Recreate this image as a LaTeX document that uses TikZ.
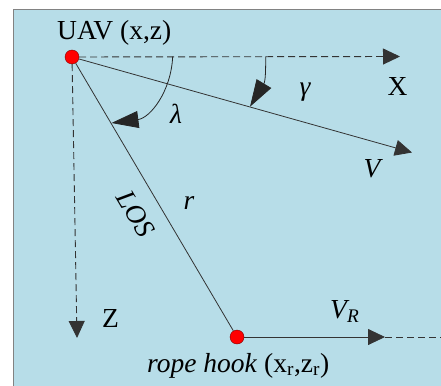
\documentclass[tikz,border=0pt]{standalone}
\usepackage{fontspec}
\setmainfont{Liberation Serif}
\usetikzlibrary{arrows.meta}
\definecolor{panelblue}{RGB}{183,221,232}
\definecolor{panelgray}{RGB}{130,130,130}

\begin{document}
\begin{tikzpicture}[x=1pt, y=-1pt, >={Triangle[length=17pt,width=16pt]},
  lbl/.style={font=\fontsize{27.5}{32}\selectfont, inner sep=0pt},
  dot/.style={circle, draw=red!50!black, fill=red, minimum size=14pt, inner sep=0pt, line width=0.4pt},
  axis/.style={dash pattern=on 7pt off 4pt, line width=0.9pt, black!80},
  ray/.style={line width=0.8pt, black!80},
  bigtip/.style={-{Triangle[length=27pt,width=17pt]}, line width=0.8pt, black!85}]
  \useasboundingbox (0,0) rectangle (441,385);
  % Panel
  \fill[panelblue] (13.5,9.5) rectangle (460,400);
  \draw[panelgray, line width=1.5pt] (13.5,400) -- (13.5,9.5) -- (460,9.5);
  % UAV and rope hook
  \node[dot] (uav) at (72,57) {};
  \node[dot] (hook) at (237,337) {};
  \coordinate (xend) at (400,56.5);
  \coordinate (zend) at (77,338);
  \coordinate (vend) at (412,152.5);
  \coordinate (vrend) at (385,337);
  \coordinate (vrfar) at (445,337);
  % Axes (dashed)
  \draw[axis, ->] (uav) -- (xend);
  \draw[axis, ->] (uav) -- (zend);
  % Velocity and line of sight
  \draw[ray, ->] (uav) -- (vend);
  \draw[ray] (uav) -- (hook);
  \draw[ray, ->] (hook) -- (vrend);
  \draw[axis] (vrend) -- (vrfar);
  % Angles
  \coordinate (lamstart) at (172.7,56.5);
  \coordinate (lamend) at (111.5,123);
  \coordinate (gamstart) at (265.7,56.5);
  \coordinate (gamend) at (250,106.7);
  \draw[bigtip] (lamstart) .. controls (171,92) and (150,118) .. (lamend);
  \draw[bigtip] (gamstart) .. controls (265.7,70) and (265.5,81) .. (gamend);
  % Labels
  \node[lbl, anchor=base west] (uavlabel) at (57,40) {UAV (x,z)};
  \node[lbl, anchor=base] (xlabel) at (397.5,95.5) {X};
  \node[lbl, anchor=base] (zlabel) at (110.5,327) {Z};
  \node[lbl, anchor=base] (vlabel) at (372,177) {\itshape V};
  \node[lbl, anchor=base] (gamlabel) at (305,95.5) {\itshape γ};
  \node[lbl, anchor=base] (lamlabel) at (176,124) {\itshape λ};
  \node[lbl, anchor=base] (rlabel) at (189,209) {\itshape r};
  \node[lbl, rotate=-59.5] (loslabel) at (136,214) {\itshape LOS};
  \node[lbl, anchor=base west] (vrlabel) at (330,318) {\itshape V\textsubscript{R}};
  \node[lbl, anchor=base west] (hooklabel) at (147,372) {\textit{rope hook} (x\textsubscript{r},z\textsubscript{r})};
\end{tikzpicture}
\end{document}
